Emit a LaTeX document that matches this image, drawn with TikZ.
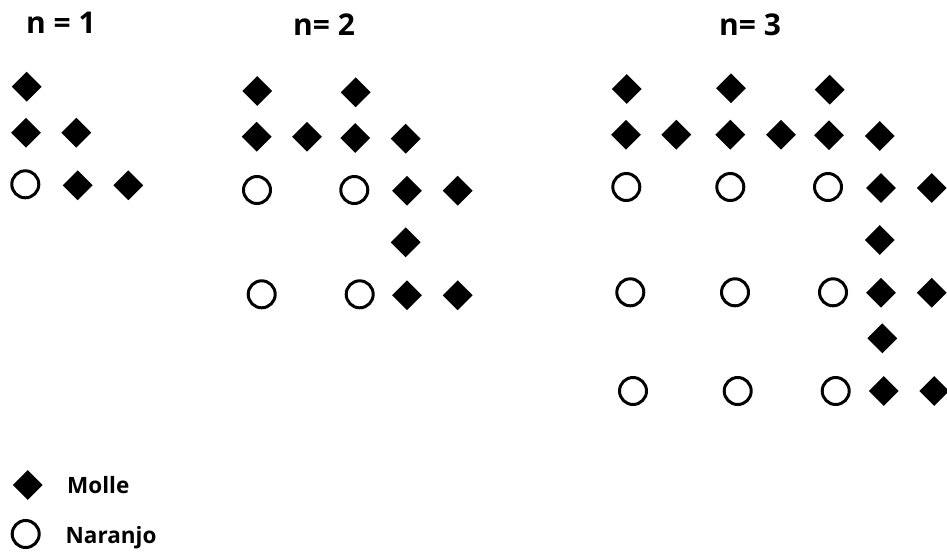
\documentclass[tikz,border=0pt]{standalone}
\usepackage{fontspec}
\setmainfont{Open Sans}
\usetikzlibrary{shapes.geometric}
\begin{document}
\begin{tikzpicture}[x=1pt,y=-1pt,
  molle/.style={diamond,fill=black,inner sep=0pt,minimum width=30pt,minimum height=30pt},
  naranjo/.style={circle,draw=black,line width=3pt,inner sep=0pt,minimum size=27pt},
  ttl/.style={font=\fontsize{30}{32}\selectfont\bfseries,inner sep=0pt,anchor=base west},
  lgd/.style={font=\fontsize{22.5}{24}\selectfont\bfseries,inner sep=0pt,anchor=base west}]
\useasboundingbox (0,0) rectangle (947,552);
% titles
\node[ttl] (t1) at (26,33.5) {n = 1};
\node[ttl] (t2) at (293,35) {n= 2};
\node[ttl] (t3) at (719,35) {n= 3};
% n = 1
\node[molle] (a1) at (26.7,86.7) {};
\node[molle] (a2) at (26,132.7) {};
\node[molle] (a3) at (76.3,132.7) {};
\node[naranjo] (a4) at (25.3,184.3) {};
\node[molle] (a5) at (77.7,185.3) {};
\node[molle] (a6) at (128.3,185.3) {};
% n = 2
\node[molle] (b1) at (257.3,91) {};
\node[molle] (b2) at (355.7,92.3) {};
\node[molle] (b3) at (256.7,136.7) {};
\node[molle] (b4) at (307,136.7) {};
\node[molle] (b5) at (355.3,138) {};
\node[molle] (b6) at (405.7,138.7) {};
\node[naranjo] (b7) at (257,190) {};
\node[naranjo] (b8) at (354.3,190) {};
\node[molle] (b9) at (407,190.7) {};
\node[molle] (b10) at (457.7,190.7) {};
\node[molle] (b11) at (405.7,242.3) {};
\node[naranjo] (b12) at (261.7,294.3) {};
\node[naranjo] (b13) at (359.7,294.3) {};
\node[molle] (b14) at (407,295.3) {};
\node[molle] (b15) at (457.7,295.3) {};
% n = 3
\node[molle] (c1) at (626.7,89) {};
\node[molle] (c2) at (731,88.3) {};
\node[molle] (c3) at (829.7,89.7) {};
\node[molle] (c4) at (626,134.7) {};
\node[molle] (c5) at (676.3,134.7) {};
\node[molle] (c6) at (730.3,134.7) {};
\node[molle] (c7) at (781,134.7) {};
\node[molle] (c8) at (829,135.3) {};
\node[molle] (c9) at (879.7,136) {};
\node[naranjo] (c10) at (626.3,187) {};
\node[naranjo] (c11) at (730.3,187) {};
\node[naranjo] (c12) at (828,187) {};
\node[molle] (c13) at (881,188) {};
\node[molle] (c14) at (931.7,188) {};
\node[molle] (c15) at (879.7,240) {};
\node[naranjo] (c16) at (630.3,292.3) {};
\node[naranjo] (c17) at (735,292.3) {};
\node[naranjo] (c18) at (833,292.3) {};
\node[molle] (c19) at (881,292.7) {};
\node[molle] (c20) at (931.7,292.7) {};
\node[molle] (c21) at (882.3,338.3) {};
\node[naranjo] (c22) at (633,391) {};
\node[naranjo] (c23) at (737.7,391) {};
\node[naranjo] (c24) at (835.7,391) {};
\node[molle] (c25) at (883.7,391) {};
\node[molle] (c26) at (934.3,391) {};
% legend
\node[molle] (l1) at (27.7,485) {};
\node[lgd] (l1t) at (67,493) {Molle};
\node[naranjo] (l2) at (25.7,534) {};
\node[lgd] (l2t) at (65.5,543) {Naranjo};
\end{tikzpicture}
\end{document}
